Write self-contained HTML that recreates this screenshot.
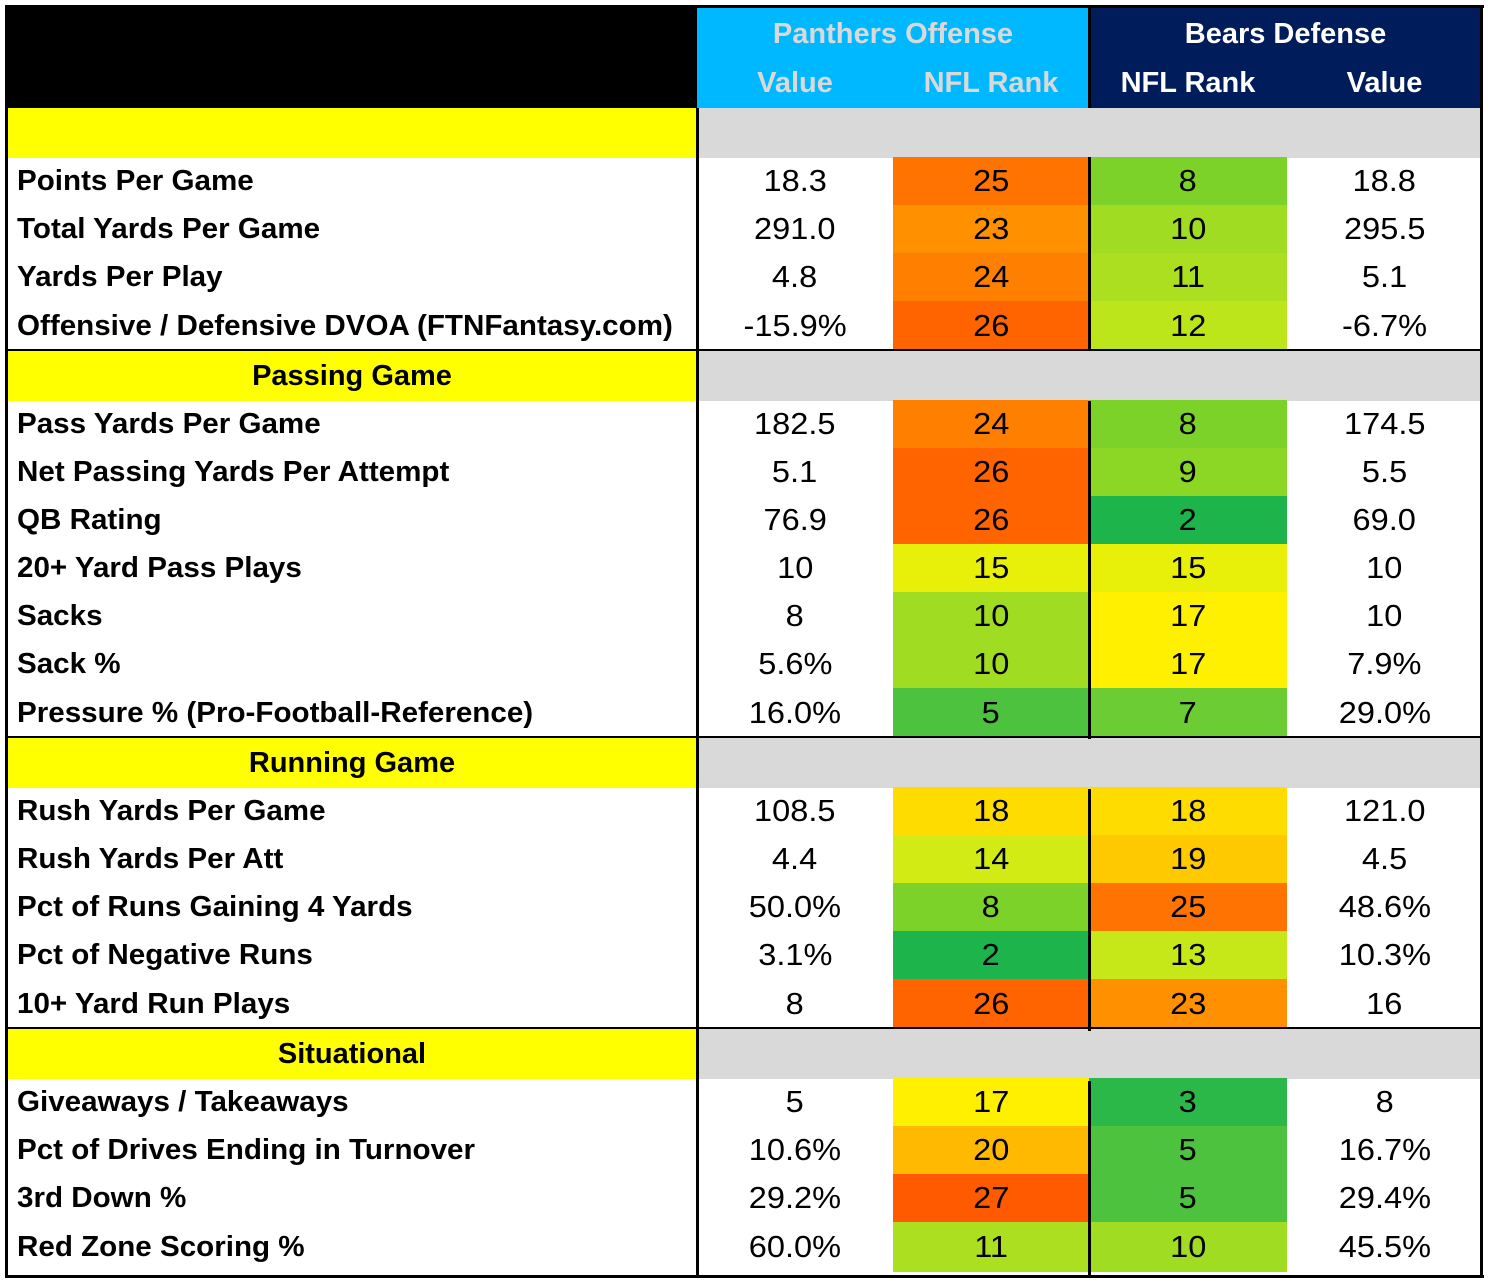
<!DOCTYPE html>
<html><head><meta charset="utf-8"><style>
body{margin:0;background:#fff;width:1492px;height:1286px;position:relative;overflow:hidden;font-family:"Liberation Sans",sans-serif}
.c{position:absolute;box-sizing:border-box;display:flex;align-items:center;justify-content:center;font-size:31px;color:#000}
.c span{display:inline-block;transform:scaleX(1.05);white-space:nowrap}
.hd{font-size:29px}
.hd span{transform:scaleX(1.0)}
.lab{justify-content:flex-start;padding-left:10px;font-weight:bold;font-size:29px}
.lab span{transform-origin:left center;transform:scaleX(1.02)}
.ln{position:absolute;background:#000}
</style></head><body>
<div id="root"></div>
<script>
const sections=["","Passing Game","Running Game","Situational"];
const labels=[["Points Per Game","Total Yards Per Game","Yards Per Play","Offensive / Defensive DVOA (FTNFantasy.com)"],
["Pass Yards Per Game","Net Passing Yards Per Attempt","QB Rating","20+ Yard Pass Plays","Sacks","Sack %","Pressure % (Pro-Football-Reference)"],
["Rush Yards Per Game","Rush Yards Per Att","Pct of Runs Gaining 4 Yards","Pct of Negative Runs","10+ Yard Run Plays"],
["Giveaways / Takeaways","Pct of Drives Ending in Turnover","3rd Down %","Red Zone Scoring %"]];
const offValues=[["18.3","291.0","4.8","-15.9%"],["182.5","5.1","76.9","10","8","5.6%","16.0%"],["108.5","4.4","50.0%","3.1%","8"],["5","10.6%","29.2%","60.0%"]];
const offRanks=[[25,23,24,26],[24,26,26,15,10,10,5],[18,14,8,2,26],[17,20,27,11]];
const defRanks=[[8,10,11,12],[8,9,2,15,17,17,7],[18,19,25,13,23],[3,5,5,10]];
const defValues=[["18.8","295.5","5.1","-6.7%"],["174.5","5.5","69.0","10","10","7.9%","29.0%"],["121.0","4.5","48.6%","10.3%","16"],["8","16.7%","29.4%","45.5%"]];
const rankColor={2:"#1db44b",3:"#2cb848",5:"#4cc23f",7:"#6ccc33",8:"#7dd22a",9:"#8cd626",10:"#9fdc22",11:"#abdf20",12:"#bce61a",13:"#c6e818",14:"#d2eb14",15:"#e8f00a",17:"#fff000",18:"#ffdc00",19:"#ffc900",20:"#ffb900",23:"#ff9000",24:"#ff7f00",25:"#ff7300",26:"#ff6400",27:"#ff5a00"};
const root=document.getElementById('root');
function cell(x,y,w,h,txt,bg,cls,name,color,bold){
 const d=document.createElement('div');d.className='c '+(cls||'');
 d.style.left=x+'px';d.style.top=y+'px';d.style.width=w+'px';d.style.height=h+'px';
 if(bg)d.style.background=bg;if(color)d.style.color=color;if(bold)d.style.fontWeight='bold';
 if(txt!==''){const s=document.createElement('span');s.textContent=txt;d.appendChild(s);}
 
 
 root.appendChild(d);return d;}
function line(x,y,w,h){const d=document.createElement('div');d.className='ln';d.style.left=x+'px';d.style.top=y+'px';d.style.width=w+'px';d.style.height=h+'px';
 
 
 root.appendChild(d);}
cell(7,7,690,101,'','#000','','header-blank');
cell(697,7,392,101,'','#00b8ff','','panthers-header-bg');
cell(1089,7,393,101,'','#001c5a','','bears-header-bg');
cell(697,9,392,50,'Panthers Offense','','hd','panthers-offense-title','#d9d9d9',true);
cell(1089,9,393,50,'Bears Defense','','hd','bears-defense-title','#fff',true);
cell(697,58,196,50,'Value','','hd','panthers-value-header','#d9d9d9',true);
cell(893,58,196,50,'NFL Rank','','hd','panthers-rank-header','#d9d9d9',true);
cell(1089,58,198,50,'NFL Rank','','hd','bears-rank-header','#fff',true);
cell(1287,58,195,50,'Value','','hd','bears-value-header','#fff',true);
let y=108;
sections.forEach((s,si)=>{
 cell(7,y,690,50,s,'#ffff00','hd','section-'+(s||'overall').toLowerCase().replace(/ /g,'-'),'#000',true);
 cell(697,y,785,50,'','#d9d9d9','','section-gray-band');
 y+=49;
 const n=labels[si].length;
 for(let i=0;i<n;i++){
  const h=(i==n-1)?50:48;
  cell(7,y,690,h,labels[si][i],'','lab','row-label');
  cell(697,y,196,h,offValues[si][i],'','','panthers-value');
  cell(893,y,196,h,String(offRanks[si][i]),rankColor[offRanks[si][i]]||'#ccc','','panthers-rank');
  cell(1089,y,198,h,String(defRanks[si][i]),rankColor[defRanks[si][i]]||'#ccc','','bears-rank');
  cell(1287,y,195,h,defValues[si][i],'','','bears-value');
  y+=h;
 }
 if(si<sections.length-1)line(7,y-2,1475,3);
});
line(5,5,1479,3);line(5,1275,1479,3);line(5,5,3,1273);line(1480,5,3,1273);
line(696,108,3,1168);line(1088,157,3,194);line(1088,401,3,338);line(1088,789,3,242);line(1088,1081,3,195);
line(1088,7,3,101);
</script>
</body></html>
